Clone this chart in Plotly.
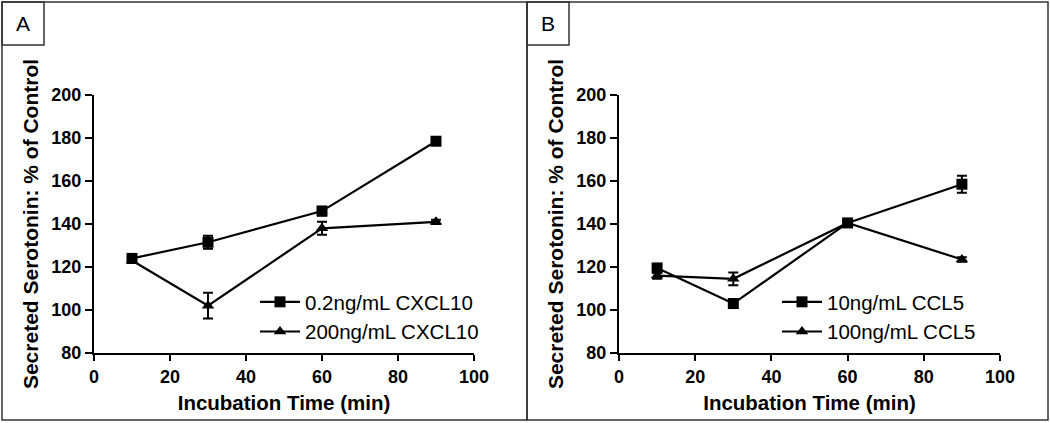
import plotly.graph_objects as go

time_min = [10, 30, 60, 90]

# Panel A
a_low_name = "0.2ng/mL CXCL10"
a_low = [124, 131.5, 146, 178.5]
a_low_err = [1.5, 3, 2, 1]
a_high_name = "200ng/mL CXCL10"
a_high = [123, 102, 138, 141]
a_high_err = [1, 6, 3, 1]

# Panel B
b_low_name = "10ng/mL CCL5"
b_low = [119.5, 103, 140.5, 158.5]
b_low_err = [2, 2, 1, 4]
b_high_name = "100ng/mL CCL5"
b_high = [116, 114.5, 140.5, 123.5]
b_high_err = [1.5, 3, 1, 1]

x_ticks = [0, 20, 40, 60, 80, 100]
y_ticks = [80, 100, 120, 140, 160, 180, 200]
panel_labels = ["A", "B"]
x_title = "Incubation Time (min)"
y_title = "Secreted Serotonin: % of Control"

W, H = 1050, 423
FONT = "Liberation Sans, Arial, sans-serif"

def px_x(v):
    return v / W

def px_y(v):
    return 1 - v / H

fig = go.Figure()

def add_series(x, y, err, name, symbol, xa, ya, legend):
    fig.add_trace(go.Scatter(
        x=x, y=y, name=name, mode="lines+markers",
        xaxis=xa, yaxis=ya, legend=legend,
        line=dict(color="black", width=2.2),
        marker=dict(symbol=symbol, size=11, color="black"),
        error_y=dict(type="data", array=err, visible=True, color="black",
                     thickness=2, width=5),
    ))

add_series(time_min, a_low, a_low_err, a_low_name, "square", "x", "y", "legend")
add_series(time_min, a_high, a_high_err, a_high_name, "triangle-up", "x", "y", "legend")
add_series(time_min, b_low, b_low_err, b_low_name, "square", "x2", "y2", "legend2")
add_series(time_min, b_high, b_high_err, b_high_name, "triangle-up", "x2", "y2", "legend2")

TITLE_FONT_X = dict(family=FONT, size=20.5, color="black", weight="bold")
TITLE_FONT_Y = dict(family=FONT, size=21, color="black", weight="bold")
TICK_FONT = dict(family=FONT, size=18, color="black", weight="bold")

axis_common = dict(
    showline=True, linecolor="black", linewidth=2,
    ticks="outside", tickwidth=2, tickcolor="black",
    showgrid=False, zeroline=False, automargin=False,
    tickfont=TICK_FONT,
)

ydom = [px_y(353), px_y(95)]

legend_common = dict(
    xanchor="left", yanchor="top", bgcolor="rgba(0,0,0,0)", borderwidth=0,
    tracegroupgap=0, itemwidth=40,
    font=dict(family=FONT, size=20.5, color="black"),
)

fig.update_layout(
    template="none",
    width=W, height=H,
    margin=dict(l=0, r=0, t=0, b=0, pad=0, autoexpand=False),
    paper_bgcolor="white", plot_bgcolor="white",
    showlegend=True,
    xaxis=dict(domain=[px_x(94), px_x(474)], range=[0, 100], tickvals=x_ticks,
               anchor="y", ticklen=6,
               title=dict(text=x_title, standoff=10, font=TITLE_FONT_X),
               **axis_common),
    yaxis=dict(domain=ydom, range=[80, 200], tickvals=y_ticks, anchor="x",
               ticklen=7,
               title=dict(text=y_title, standoff=7, font=TITLE_FONT_Y),
               **axis_common),
    xaxis2=dict(domain=[px_x(619), px_x(1000)], range=[0, 100], tickvals=x_ticks,
                anchor="y2", ticklen=6,
                title=dict(text=x_title, standoff=10, font=TITLE_FONT_X),
                **axis_common),
    yaxis2=dict(domain=ydom, range=[80, 200], tickvals=y_ticks, anchor="x2",
                ticklen=7,
                title=dict(text=y_title, standoff=7, font=TITLE_FONT_Y),
                **axis_common),
    legend=dict(x=px_x(255), y=px_y(282), **legend_common),
    legend2=dict(x=px_x(777), y=px_y(282), **legend_common),
)

line = dict(color="#333333", width=1.5)
shapes = [
    dict(type="rect", xref="paper", yref="paper", x0=px_x(2), x1=px_x(527),
         y0=px_y(420), y1=px_y(2), line=line),
    dict(type="rect", xref="paper", yref="paper", x0=px_x(527), x1=px_x(1048),
         y0=px_y(420), y1=px_y(2), line=line),
    dict(type="rect", xref="paper", yref="paper", x0=px_x(2), x1=px_x(44),
         y0=px_y(45), y1=px_y(2), line=line),
    dict(type="rect", xref="paper", yref="paper", x0=px_x(527), x1=px_x(569),
         y0=px_y(45), y1=px_y(2), line=line),
]
fig.update_layout(shapes=shapes)

for lbl, cx in zip(panel_labels, [23, 548]):
    fig.add_annotation(text=lbl, xref="paper", yref="paper", x=px_x(cx), y=px_y(24),
                       xanchor="center", yanchor="middle", showarrow=False,
                       font=dict(family=FONT, size=21, color="black"))

fig.write_html("out.html", config={"displayModeBar": False},
               post_script="document.body.style.margin='0';document.body.style.overflow='hidden';")
